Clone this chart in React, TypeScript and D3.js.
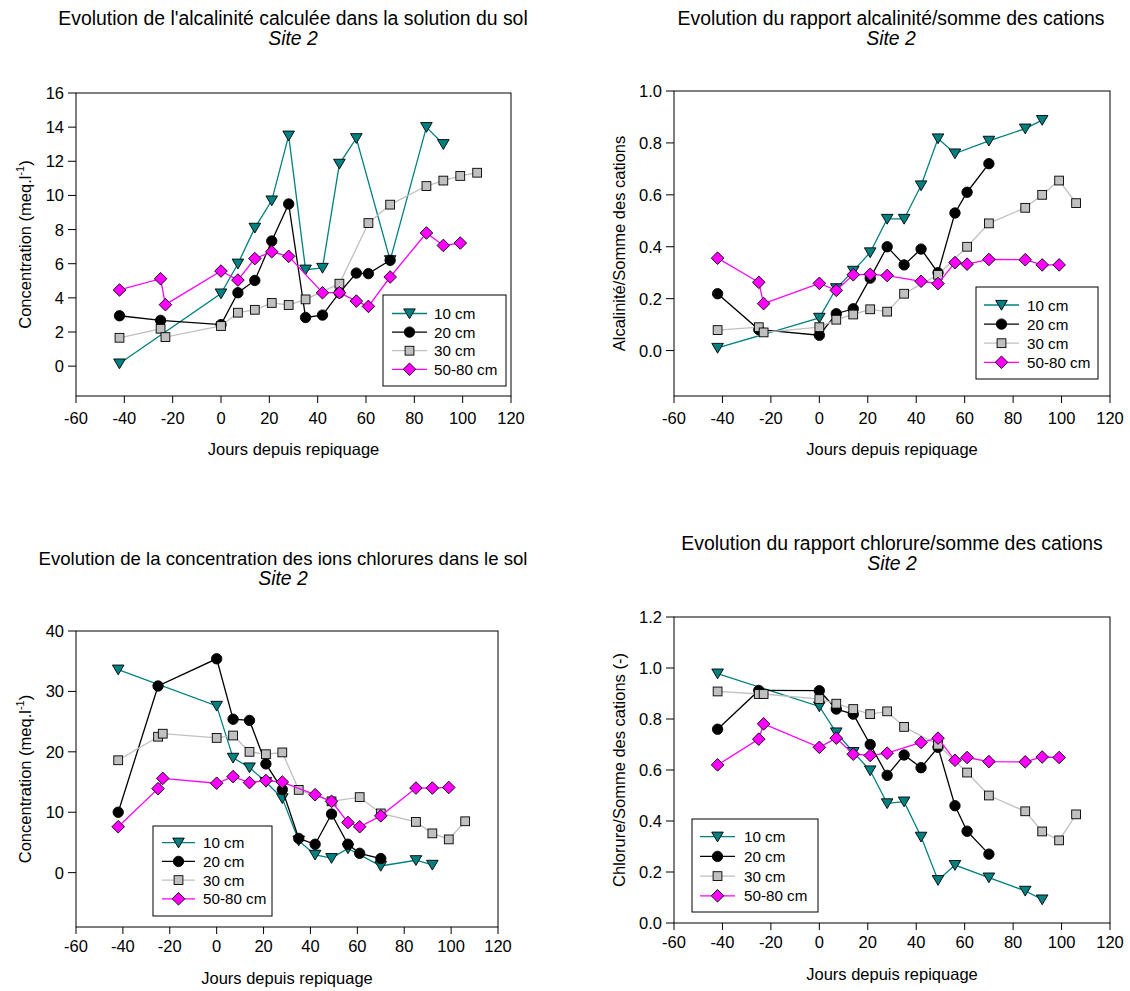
import React from "react";
import * as d3 from "d3";

// Days since transplanting for each depth series
const days10 = [-42, 0, 7, 14, 21, 28, 35, 42, 49, 56, 70, 85, 92];
const days20 = [-42, -25, 0, 7, 14, 21, 28, 35, 42, 49, 56, 61, 70];
const days30 = [-42, -25, -23, 0, 7, 14, 21, 28, 35, 49, 61, 70, 85, 92, 99, 106];
const days50 = [-42, -25, -23, 0, 7, 14, 21, 28, 42, 49, 56, 61, 70, 85, 92, 99];

// Panel 1: alkalinity (meq/l)
const alk10 = [0.15, 4.25, 6.0, 8.1, 9.7, 13.5, 5.65, 5.75, 11.85, 13.35, 6.2, 14.0, 13.0];
const alk20 = [2.95, 2.68, 2.43, 4.3, 5.02, 7.33, 9.5, 2.85, 2.99, 4.3, 5.45, 5.42, 6.2];
const alk30 = [1.66, 2.19, 1.7, 2.35, 3.13, 3.3, 3.7, 3.58, 3.91, 4.83, 8.38, 9.46, 10.55, 10.87, 11.14, 11.33];
const alk50 = [4.46, 5.12, 3.6, 5.57, 5.04, 6.3, 6.7, 6.43, 4.3, 4.3, 3.81, 3.5, 5.22, 7.8, 7.07, 7.21];

// Panel 2: alkalinity / sum of cations
const ra10 = [0.01, 0.126, 0.24, 0.307, 0.378, 0.507, 0.507, 0.636, 0.817, 0.759, 0.808, 0.855, 0.888];
const ra20 = [0.219, 0.081, 0.059, 0.142, 0.161, 0.279, 0.4, 0.33, 0.391, 0.3, 0.53, 0.61, 0.72];
const ra30 = [0.079, 0.09, 0.07, 0.09, 0.119, 0.139, 0.159, 0.15, 0.219, 0.292, 0.4, 0.49, 0.55, 0.6, 0.655, 0.568];
const ra50 = [0.356, 0.263, 0.181, 0.259, 0.232, 0.292, 0.294, 0.289, 0.267, 0.258, 0.339, 0.333, 0.351, 0.35, 0.33, 0.33];

// Panel 3: chloride (meq/l)
const cl10 = [33.6, 27.6, 19.0, 17.4, 15.0, 12.3, 5.3, 2.94, 2.4, 4.0, 1.1, 2.05, 1.28];
const cl20 = [10.0, 30.9, 35.4, 25.4, 25.2, 18.0, 13.75, 5.66, 4.7, 9.7, 4.7, 3.2, 2.33];
const cl30 = [18.6, 22.5, 23.0, 22.3, 22.7, 20.0, 19.6, 19.9, 13.7, 11.8, 12.5, 9.8, 8.4, 6.5, 5.5, 8.5];
const cl50 = [7.6, 13.9, 15.6, 14.8, 15.9, 14.9, 15.25, 15.0, 12.9, 11.8, 8.3, 7.6, 9.4, 14.0, 14.0, 14.1];

// Panel 4: chloride / sum of cations
const rc10 = [0.978, 0.849, 0.747, 0.67, 0.598, 0.469, 0.476, 0.338, 0.168, 0.227, 0.178, 0.126, 0.092];
const rc20 = [0.76, 0.912, 0.911, 0.839, 0.819, 0.7, 0.579, 0.659, 0.609, 0.689, 0.46, 0.36, 0.27];
const rc30 = [0.908, 0.898, 0.898, 0.878, 0.86, 0.839, 0.819, 0.83, 0.769, 0.699, 0.59, 0.5, 0.438, 0.359, 0.324, 0.426];
const rc50 = [0.62, 0.721, 0.781, 0.689, 0.725, 0.662, 0.657, 0.666, 0.708, 0.725, 0.638, 0.649, 0.633, 0.632, 0.651, 0.649];

const seriesNames = ["10 cm", "20 cm", "30 cm", "50-80 cm"];
const xTicks = [-60, -40, -20, 0, 20, 40, 60, 80, 100, 120];
const xLabel = "Jours depuis repiquage";

const FONT = "'Liberation Sans', Arial, sans-serif";
const LABEL_FS = 16.5;
const LEGEND_FS = 15.2;
const lineColors = ["#008080", "#000000", "#c0c0c0", "#ff00ff"];
const fillColors = ["#008080", "#000000", "#c0c0c0", "#ff00ff"];
const markerKinds = ["tri", "circle", "square", "diamond"];

function Marker({ kind, x, y, fill }: { kind: string; x: number; y: number; fill: string }) {
  const sw = 0.9;
  if (kind === "tri") {
    return <path d={`M${x - 5.8},${y - 4.6}L${x + 5.8},${y - 4.6}L${x},${y + 5.2}Z`} fill={fill} stroke="#000" strokeWidth={sw} />;
  }
  if (kind === "circle") {
    return <circle cx={x} cy={y} r={5.2} fill={fill} stroke="#000" strokeWidth={sw} />;
  }
  if (kind === "square") {
    return <rect x={x - 4.4} y={y - 4.4} width={8.8} height={8.8} fill={fill} stroke="#000" strokeWidth={sw} />;
  }
  return <path d={`M${x},${y - 6.3}L${x + 6.3},${y}L${x},${y + 6.3}L${x - 6.3},${y}Z`} fill={fill} stroke="#000" strokeWidth={sw} />;
}

type PanelProps = {
  left: number; right: number; top: number; bottom: number;
  yDomain: [number, number]; yTicks: number[]; yFmt: (v: number) => string;
  title: string; titleX: number; titleY: number; titleFs: number;
  yLabel: React.ReactNode; yLabelX: number;
  xLabelY: number; tickLabelY: number;
  values: number[][];
  legend: { x: number; y: number; w: number; h: number; lx1: number; lx2: number; tx: number; y0: number; dy: number };
};

function Panel(p: PanelProps) {
  const x = d3.scaleLinear().domain([-60, 120]).range([p.left, p.right]);
  const y = d3.scaleLinear().domain(p.yDomain).range([p.bottom, p.top]);
  const daysAll = [days10, days20, days30, days50];
  const cx = (p.left + p.right) / 2;
  const cy = (p.top + p.bottom) / 2;
  return (
    <g fontFamily={FONT} fill="#000">
      <text x={p.titleX} y={p.titleY} textAnchor="middle" fontSize={p.titleFs}>{p.title}</text>
      <text x={p.titleX} y={p.titleY + 20} textAnchor="middle" fontSize={19.4} fontStyle="italic">Site 2</text>
      <rect x={p.left} y={p.top} width={p.right - p.left} height={p.bottom - p.top} fill="none" stroke="#000" strokeWidth={1} />
      {xTicks.map((t) => (
        <g key={"x" + t}>
          <line x1={x(t)} x2={x(t)} y1={p.bottom} y2={p.bottom + 7} stroke="#000" strokeWidth={1} />
          <text x={x(t)} y={p.tickLabelY} textAnchor="middle" fontSize={LABEL_FS}>{t}</text>
        </g>
      ))}
      {p.yTicks.map((t) => (
        <g key={"y" + t}>
          <line x1={p.left - 8} x2={p.left} y1={y(t)} y2={y(t)} stroke="#000" strokeWidth={1} />
          <text x={p.left - 12} y={y(t) + 6} textAnchor="end" fontSize={LABEL_FS}>{p.yFmt(t)}</text>
        </g>
      ))}
      <text x={cx} y={p.xLabelY} textAnchor="middle" fontSize={LABEL_FS}>{xLabel}</text>
      <text transform={`translate(${p.yLabelX},${cy}) rotate(-90)`} textAnchor="middle" fontSize={LABEL_FS}>{p.yLabel}</text>
      {p.values.map((vals, si) => {
        const pts = vals.map((v, i) => [x(daysAll[si][i]), y(v)] as [number, number]);
        const path = d3.line()(pts) || "";
        return (
          <g key={"s" + si}>
            <path d={path} fill="none" stroke={lineColors[si]} strokeWidth={1.3} />
            {pts.map((pt, i) => (
              <Marker key={i} kind={markerKinds[si]} x={pt[0]} y={pt[1]} fill={fillColors[si]} />
            ))}
          </g>
        );
      })}
      <rect x={p.legend.x} y={p.legend.y} width={p.legend.w} height={p.legend.h} fill="#fff" stroke="#000" strokeWidth={1} />
      {seriesNames.map((n, i) => {
        const ly = p.legend.y0 + i * p.legend.dy;
        return (
          <g key={"l" + i}>
            <line x1={p.legend.lx1} x2={p.legend.lx2} y1={ly} y2={ly} stroke={lineColors[i]} strokeWidth={1.3} />
            <Marker kind={markerKinds[i]} x={(p.legend.lx1 + p.legend.lx2) / 2} y={ly} fill={fillColors[i]} />
            <text x={p.legend.tx} y={ly + 5.5} fontSize={LEGEND_FS}>{n}</text>
          </g>
        );
      })}
    </g>
  );
}

const concLabel = (
  <>
    Concentration (meq.l<tspan dy={-7} fontSize={11}>-1</tspan><tspan dy={7}>)</tspan>
  </>
);

export default function App() {
  const f0 = (v: number) => d3.format("d")(v);
  const f1 = (v: number) => d3.format(".1f")(v);
  return (
    <svg width={1130} height={991} style={{ position: "absolute", left: 0, top: 0, background: "#fff" }}>
      <rect x={0} y={0} width={1130} height={991} fill="#fff" />
      <Panel
        left={76} right={511} top={93} bottom={396}
        yDomain={[-1.75, 16]} yTicks={[0, 2, 4, 6, 8, 10, 12, 14, 16]} yFmt={f0}
        title="Evolution de l'alcalinité calculée dans la solution du sol" titleX={293} titleY={25} titleFs={19.4}
        yLabel={concLabel} yLabelX={31}
        xLabelY={455} tickLabelY={424}
        values={[alk10, alk20, alk30, alk50]}
        legend={{ x: 383, y: 295, w: 123, h: 91, lx1: 392, lx2: 427, tx: 434, y0: 313.5, dy: 18.6 }}
      />
      <Panel
        left={674} right={1110} top={91} bottom={396}
        yDomain={[-0.175, 1.0]} yTicks={[0, 0.2, 0.4, 0.6, 0.8, 1.0]} yFmt={f1}
        title="Evolution du rapport alcalinité/somme des cations" titleX={891} titleY={25} titleFs={19.4}
        yLabel="Alcalinité/Somme des cations" yLabelX={625}
        xLabelY={455} tickLabelY={424}
        values={[ra10, ra20, ra30, ra50]}
        legend={{ x: 976, y: 287, w: 122, h: 92, lx1: 984, lx2: 1019, tx: 1027, y0: 305, dy: 19.1 }}
      />
      <Panel
        left={76} right={498} top={631} bottom={927}
        yDomain={[-9, 40]} yTicks={[0, 10, 20, 30, 40]} yFmt={f0}
        title="Evolution de la concentration des ions chlorures dans le sol" titleX={283} titleY={565} titleFs={18.6}
        yLabel={concLabel} yLabelX={31}
        xLabelY={984} tickLabelY={952}
        values={[cl10, cl20, cl30, cl50]}
        legend={{ x: 153, y: 826, w: 119, h: 90, lx1: 162, lx2: 195, tx: 203, y0: 842.7, dy: 18.7 }}
      />
      <Panel
        left={674} right={1110} top={617} bottom={923}
        yDomain={[0, 1.2]} yTicks={[0, 0.2, 0.4, 0.6, 0.8, 1.0, 1.2]} yFmt={f1}
        title="Evolution du rapport chlorure/somme des cations" titleX={892} titleY={550} titleFs={19.4}
        yLabel="Chlorure/Somme des cations (-)" yLabelX={625}
        xLabelY={980} tickLabelY={948}
        values={[rc10, rc20, rc30, rc50]}
        legend={{ x: 692, y: 819, w: 126, h: 93, lx1: 700, lx2: 735, tx: 744, y0: 836.7, dy: 19.7 }}
      />
    </svg>
  );
}
